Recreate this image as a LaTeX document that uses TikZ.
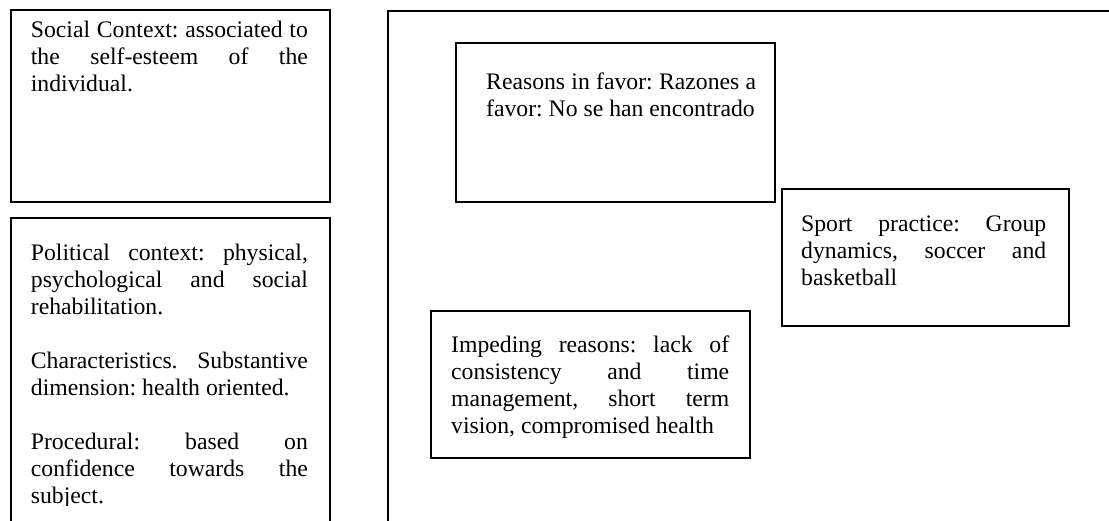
\documentclass[tikz,border=0pt]{standalone}
\usepackage{fontspec}
\setmainfont{Liberation Serif}
\usetikzlibrary{positioning}
\tolerance=10000
\hbadness=10000
\frenchspacing

\begin{document}
\begin{tikzpicture}[
    x=1pt, y=-1pt,
    % Box styles
    panel/.style={rectangle, draw=black, line width=1.5pt, anchor=north west, inner sep=0pt},
    outerbox/.style={panel, minimum width=800pt, minimum height=560pt},
    % Text style
    txt/.style={anchor=base west, inner sep=0pt, align=justify, font=\fontsize{23.7pt}{27pt}\selectfont}
]
    \useasboundingbox (0,0) rectangle (1109,520);
    \clip (0,0) rectangle (1109,520);

    % Left column
    \node [panel, minimum width=319pt, minimum height=192pt] (social) at (10,9) {};
    \node [panel, minimum width=319pt, minimum height=330pt] (political) at (10,217) {};

    % Right frame and its boxes
    \node [outerbox] (frame) at (387,10) {};
    \node [panel, minimum width=319pt, minimum height=159pt] (favor) at (455,42) {};
    \node [panel, minimum width=287pt, minimum height=137pt] (sport) at (781,188) {};
    \node [panel, minimum width=319pt, minimum height=147pt] (impeding) at (430,310) {};

    % Texts
    \node [txt, text width=277pt] (socialtext) at ([shift={(20.7,28.7)}]social.north west)
        {Social Context: associated to\linebreak the self-esteem of the\linebreak individual.};
    \begin{scope}
        \clip (0,0) rectangle (1109,505);
        \node [txt, text width=277pt] (politicaltext) at ([shift={(20.7,43)}]political.north west)
            {Political context: physical,\linebreak psychological and social\linebreak rehabilitation.\par\vspace{27pt}Characteristics. Substantive\linebreak dimension: health oriented.\par\vspace{27pt}Procedural: based on\linebreak confidence towards the\linebreak subject.};
    \end{scope}
    \node [txt, text width=270pt] (favortext) at ([shift={(31,47)}]favor.north west)
        {Reasons in favor: Razones a\linebreak favor: No se han encontrado};
    \node [txt, text width=245pt] (sporttext) at ([shift={(20,43)}]sport.north west)
        {Sport practice: Group\linebreak dynamics, soccer and\linebreak basketball};
    \node [txt, text width=278pt] (impedingtext) at ([shift={(21,42)}]impeding.north west)
        {Impeding reasons: lack of\linebreak consistency and time\linebreak management, short term\linebreak vision, compromised health};

\end{tikzpicture}
\end{document}
